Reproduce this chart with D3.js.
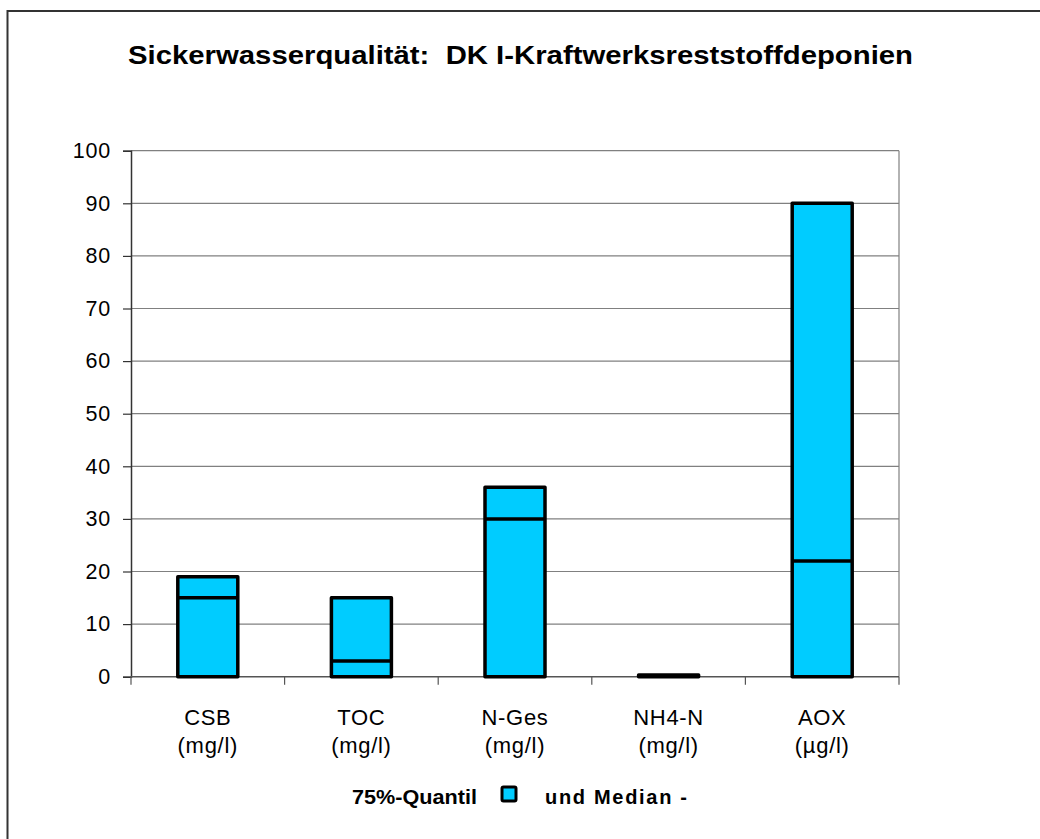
<!DOCTYPE html>
<html>
<head>
<meta charset="utf-8">
<script src="https://cdn.jsdelivr.net/npm/d3@7"></script>
<style>
  html, body { margin: 0; padding: 0; background: #fff; }
  svg { display: block; font-family: "Liberation Sans", Arial, sans-serif; }
</style>
</head>
<body>
<svg id="chart" width="1040" height="839"></svg>
<script>
// Leachate quality parameters (two-line category labels)
const categories = ["CSB", "TOC", "N-Ges", "NH4-N", "AOX"];
const units = ["(mg/l)", "(mg/l)", "(mg/l)", "(mg/l)", "(µg/l)"];
// 75th percentile and median per parameter
const quantile75 = [19, 15, 36, 0.3, 90];
const median = [15, 3, 30, 0.2, 22];
const yTicks = [0, 10, 20, 30, 40, 50, 60, 70, 80, 90, 100];

const svg = d3.select("#chart");
const plot = { left: 131, right: 899, top: 150.7, bottom: 676.7 };

// outer frame (runs past the right and bottom edge)
svg.append("rect")
  .attr("x", 7.5).attr("y", 11)
  .attr("width", 1100).attr("height", 900)
  .attr("fill", "none").attr("stroke", "#333").attr("stroke-width", 2);

// title
svg.append("text")
  .attr("x", 128).attr("y", 64)
  .attr("font-weight", "bold").attr("font-size", 25)
  .attr("fill", "#000")
  .attr("textLength", 785).attr("lengthAdjust", "spacingAndGlyphs")
  .attr("xml:space", "preserve")
  .text("Sickerwasserqualität:  DK I-Kraftwerksreststoffdeponien");

const x = d3.scaleBand().domain(categories)
  .range([plot.left, plot.right]).paddingInner(0).paddingOuter(0);
const y = d3.scaleLinear().domain([0, 100]).range([plot.bottom, plot.top]);

// horizontal gridlines
svg.append("g").selectAll("line").data(yTicks.filter(d => d > 0)).join("line")
  .attr("x1", plot.left).attr("x2", plot.right)
  .attr("y1", d => y(d)).attr("y2", d => y(d))
  .attr("stroke", "#808080").attr("stroke-width", 1.2);

// right border of plot area
svg.append("line")
  .attr("x1", plot.right).attr("x2", plot.right)
  .attr("y1", plot.top).attr("y2", plot.bottom)
  .attr("stroke", "#808080").attr("stroke-width", 1.2);

// y axis
const yAxis = svg.append("g")
  .attr("transform", `translate(${plot.left},0)`)
  .call(d3.axisLeft(y).tickValues(yTicks).tickSize(8).tickPadding(12));
yAxis.select(".domain").attr("stroke", "#333").attr("stroke-width", 1.5);
yAxis.selectAll(".tick line").attr("stroke", "#333").attr("stroke-width", 1.2);
yAxis.selectAll("text").attr("font-size", 21.5).attr("fill", "#000")
  .attr("letter-spacing", 0.8)
  .attr("font-family", "Liberation Sans, Arial, sans-serif");

// x axis with ticks between categories
const boundaries = d3.range(categories.length + 1).map(i => plot.left + i * x.step());
svg.append("line")
  .attr("x1", plot.left).attr("x2", plot.right)
  .attr("y1", plot.bottom).attr("y2", plot.bottom)
  .attr("stroke", "#555").attr("stroke-width", 1.5);
svg.append("g").selectAll("line").data(boundaries).join("line")
  .attr("x1", d => d).attr("x2", d => d)
  .attr("y1", plot.bottom).attr("y2", plot.bottom + 8)
  .attr("stroke", "#555").attr("stroke-width", 1.2);

// category labels
const lbl = svg.append("g").selectAll("text").data(categories).join("text")
  .attr("text-anchor", "middle")
  .attr("font-size", 22).attr("fill", "#000")
  .attr("letter-spacing", 0.7);
lbl.append("tspan")
  .attr("x", d => x(d) + x.bandwidth() / 2).attr("y", 725)
  .text(d => d);
lbl.append("tspan")
  .attr("x", d => x(d) + x.bandwidth() / 2).attr("y", 753)
  .text((d, i) => units[i]);

// bars: 75% quantile
const barW = 60;
const bars = svg.append("g");
bars.selectAll("rect").data(categories).join("rect")
  .attr("x", d => x(d) + x.bandwidth() / 2 - barW / 2)
  .attr("width", barW)
  .attr("y", (d, i) => y(quantile75[i]))
  .attr("height", (d, i) => y(0) - y(quantile75[i]))
  .attr("fill", "#00CCFF")
  .attr("stroke", "#000").attr("stroke-width", 3.5)
  .attr("stroke-linejoin", "round");

// median markers
bars.selectAll("line").data(categories).join("line")
  .attr("x1", d => x(d) + x.bandwidth() / 2 - barW / 2)
  .attr("x2", d => x(d) + x.bandwidth() / 2 + barW / 2)
  .attr("y1", (d, i) => y(median[i]))
  .attr("y2", (d, i) => y(median[i]))
  .attr("stroke", "#000").attr("stroke-width", 3.5);

// legend
const leg = svg.append("g");
leg.append("text")
  .attr("x", 352).attr("y", 804)
  .attr("font-weight", "bold").attr("font-size", 20).attr("fill", "#000")
  .attr("textLength", 125).attr("lengthAdjust", "spacingAndGlyphs")
  .text("75%-Quantil");
leg.append("rect")
  .attr("x", 502).attr("y", 787).attr("width", 14).attr("height", 14)
  .attr("rx", 1.5)
  .attr("fill", "#00CCFF").attr("stroke", "#000").attr("stroke-width", 3);
leg.append("text")
  .attr("x", 545).attr("y", 804)
  .attr("font-weight", "bold").attr("font-size", 20).attr("fill", "#000")
  .attr("textLength", 142).attr("lengthAdjust", "spacing")
  .text("und Median -");
</script>
</body>
</html>
